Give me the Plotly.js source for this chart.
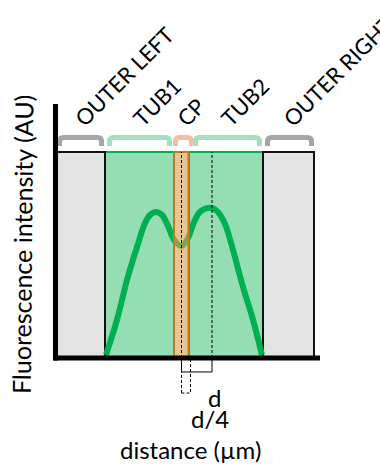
<!DOCTYPE html>
<html><head><meta charset="utf-8">
<script src="https://cdn.plot.ly/plotly-3.0.1.min.js"></script>
<style>html,body{margin:0;padding:0;background:#fff}</style>
</head><body><div id="chart" style="width:380px;height:471px"></div>
<script>
// ---- data ----
const regionNames = ['OUTER LEFT', 'TUB1', 'CP', 'TUB2', 'OUTER RIGHT'];
const regionStart = [0.00, 0.48, 1.17, 1.32, 2.06];
const regionEnd   = [0.48, 1.17, 1.315, 2.06, 2.57];
const regionKind  = ['outer', 'tub', 'cp', 'tub', 'outer'];
const regionTop = 0.811;

const distance  = [0.49, 0.60, 0.70, 0.80, 0.88, 0.93, 0.99, 1.05, 1.11, 1.17, 1.245, 1.31, 1.37, 1.43, 1.49, 1.55, 1.61, 1.68, 1.76, 1.86, 1.96, 2.05];
const intensity = [0.012, 0.150, 0.307, 0.437, 0.531, 0.563, 0.575, 0.563, 0.520, 0.465, 0.441, 0.472, 0.535, 0.575, 0.589, 0.591, 0.575, 0.528, 0.425, 0.280, 0.150, 0.012];

const cpCenter = 1.245;
const tub2Peak = 1.55;
const quarterEnd = 1.335;
const xTitle = 'distance (µm)';
const yTitle = 'Fluorescence intensity (AU)';

// ---- styles ----
const FONT = 'Lato';
const fillOf = {outer: '#E3E3E3', tub: '#95DDB2', cp: 'rgba(214,160,80,0.62)'};
const lineOf = {outer: '#111111', tub: '#00B050', cp: '#C27A1E'};
const bracketOf = {outer: '#A6A6A6', tub: '#A3E0BD', cp: '#F4BFA0'};
const PXX = 100, PXY = 254; // pixels per data unit for the ranges below

const shapes = [];
const annotations = [];

['tub', 'outer', 'cp'].forEach(kind => {
  regionNames.forEach((n, i) => {
    if (regionKind[i] !== kind) return;
    shapes.push({type: 'rect', xref: 'x', yref: 'y', x0: regionStart[i], x1: regionEnd[i], y0: 0, y1: regionTop,
      fillcolor: fillOf[kind], line: {color: lineOf[kind], width: 2}, layer: kind === 'cp' ? 'above' : 'below'});
  });
});

const cv = document.createElement('canvas').getContext('2d');
cv.font = '22px Lato';

const bTop = 0.868, bBot = 0.835, rx = 0.04, ry = 0.016, inset = 0.025;
const bracketX0 = [0.0, 0.50, 1.16, 1.36, 2.08];
const bracketX1 = [0.47, 1.15, 1.37, 2.05, 2.57];
regionNames.forEach((n, i) => {
  const a = bracketX0[i] + inset, b = bracketX1[i] - inset;
  shapes.push({type: 'path', xref: 'x', yref: 'y', layer: 'below',
    path: `M${a},${bBot} L${a},${bTop - ry} Q${a},${bTop} ${a + rx},${bTop} L${b - rx},${bTop} Q${b},${bTop} ${b},${bTop - ry} L${b},${bBot}`,
    line: {color: bracketOf[regionKind[i]], width: 5}});
  const half = cv.measureText(n).width / 2 * Math.SQRT1_2;
  const sx = (a + b) / 2 - 0.02, sy = 0.93;
  annotations.push({text: n, xref: 'x', yref: 'y', x: sx + half / PXX, y: sy + half / PXY,
    textangle: -45, showarrow: false, font: {family: FONT, size: 22, color: '#000'}});
});

const dash = {color: '#000', width: 1, dash: '3px,2px'};
shapes.push({type: 'line', xref: 'x', yref: 'y', x0: cpCenter, x1: cpCenter, y0: 0, y1: regionTop, line: dash, layer: 'above'});
shapes.push({type: 'line', xref: 'x', yref: 'y', x0: tub2Peak, x1: tub2Peak, y0: 0, y1: regionTop, line: dash, layer: 'above'});
shapes.push({type: 'path', xref: 'x', yref: 'y', path: `M${cpCenter},0 L${cpCenter},-0.055 L${tub2Peak},-0.055 L${tub2Peak},0`, line: {color: '#000', width: 1}, layer: 'above'});
shapes.push({type: 'rect', xref: 'x', yref: 'y', x0: cpCenter, x1: quarterEnd, y0: -0.138, y1: 0, line: dash, layer: 'above'});

shapes.push({type: 'line', xref: 'x', yref: 'y', x0: -0.015, x1: -0.015, y0: -0.01, y1: 1.0, line: {color: '#000', width: 5}, layer: 'above'});
shapes.push({type: 'line', xref: 'x', yref: 'y', x0: -0.035, x1: 2.63, y0: 0, y1: 0, line: {color: '#000', width: 5}, layer: 'above'});

annotations.push({text: 'd', xref: 'x', yref: 'y', x: tub2Peak + 0.02, y: -0.154, showarrow: false, font: {family: FONT, size: 24, color: '#000'}});
annotations.push({text: 'd/4', xref: 'x', yref: 'y', x: 1.53, y: -0.240, showarrow: false, font: {family: FONT, size: 24, color: '#000'}});
annotations.push({text: xTitle, xref: 'x', yref: 'y', x: 1.33, y: -0.362, showarrow: false, font: {family: FONT, size: 24, color: '#000'}});
annotations.push({text: yTitle, xref: 'x', yref: 'y', x: -0.35, y: 0.445, textangle: -89.5, showarrow: false, font: {family: FONT, size: 25, color: '#000'}});

const trace = {x: distance, y: intensity, type: 'scatter', mode: 'lines',
  line: {color: '#00B050', width: 6, shape: 'spline', smoothing: 1}, hoverinfo: 'skip'};

const layout = {
  width: 380, height: 471, margin: {l: 0, r: 0, t: 0, b: 0},
  xaxis: {range: [-0.57, 3.23], visible: false},
  yaxis: {range: [-0.4449, 1.4094], visible: false},
  shapes: shapes, annotations: annotations
};
Plotly.newPlot('chart', [trace], layout, {staticPlot: true});
</script></body></html>
